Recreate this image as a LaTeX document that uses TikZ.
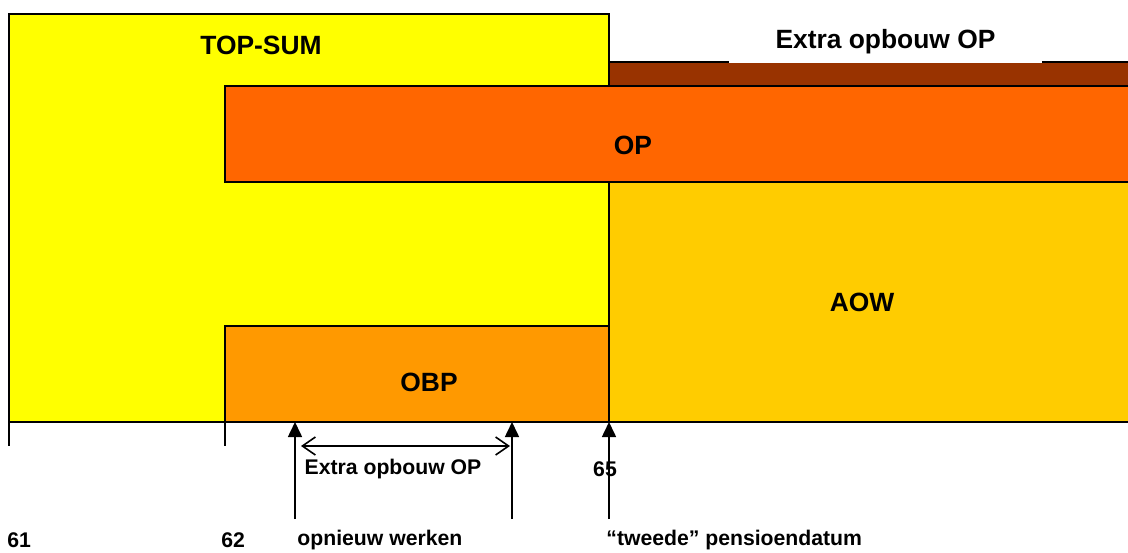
\documentclass[tikz,border=0pt]{standalone}
\usepackage{fontspec}
\setmainfont{Liberation Sans}
\usepackage{tikz}
\usetikzlibrary{
    arrows.meta,
    positioning
}

\definecolor{topsumyellow}{HTML}{FFFF00}
\definecolor{extrabrown}{HTML}{993300}
\definecolor{oporange}{HTML}{FF6600}
\definecolor{aowgold}{HTML}{FFCC00}
\definecolor{obporange}{HTML}{FF9900}

\tikzset{
    blok/.style={draw=black, line width=0.8pt},
    kop/.style={font=\fontsize{13.2}{15}\selectfont\bfseries, inner sep=0pt},
    as/.style={font=\fontsize{10.6}{12}\selectfont\bfseries, inner sep=0pt},
    pijl/.style={line width=0.8pt, -{Triangle[length=7.5pt, width=7pt]}},
    periode/.style={line width=0.8pt, {Straight Barb[length=6.5pt, width=9pt]}-{Straight Barb[length=6.5pt, width=9pt]}}
}

\begin{document}
\begin{tikzpicture}[x=0.5pt, y=-0.5pt]

\clip (0,0) rectangle (1128,552);

% blocks
\filldraw[blok, fill=topsumyellow] (9,14) rectangle (609,422);
\filldraw[blok, fill=aowgold] (609,182) rectangle (1132,422);
\filldraw[blok, fill=extrabrown] (609,62) rectangle (1132,86);
\filldraw[blok, fill=oporange] (225,86) rectangle (1132,182);
\filldraw[blok, fill=obporange] (225,326) rectangle (609,422);

% time axis
\draw[blok] (9,422) -- (1132,422);
\draw[blok] (9,422) -- (9,446);
\draw[blok] (225,422) -- (225,446);

% block labels
\node[kop] (topsum) at (261,45) {TOP-SUM};
\node[kop, fill=white, minimum width=156.5pt, minimum height=21.5pt] (extra) at (885.5,41.5) {Extra opbouw OP};
\node[kop] (op) at (633,145) {OP};
\node[kop] (aow) at (862,302) {AOW};
\node[kop] (obp) at (429,382) {OBP};

% ages and moments
\node[as, anchor=west] (l61) at (7,540) {61};
\node[as, anchor=west] (l62) at (221,540) {62};
\node[as, anchor=west] (werken) at (297,540) {opnieuw werken};
\node[as, anchor=west] (tweede) at (606,540) {“tweede” pensioendatum};
\node[as] (n65) at (605,469) {65};
\node[as] (extraop) at (393,469) {Extra opbouw OP};

% arrows
\coordinate (werkvan) at (295,519);
\coordinate (werktot) at (295,422);
\coordinate (stopvan) at (512,519);
\coordinate (stoptot) at (512,422);
\coordinate (pdvan) at (609,519);
\coordinate (pdtot) at (609,422);
\coordinate (perl) at (301,446);
\coordinate (perr) at (510,446);

\draw[pijl] (werkvan) -- (werktot);
\draw[pijl] (stopvan) -- (stoptot);
\draw[pijl] (pdvan) -- (pdtot);
\draw[periode] (perl) -- (perr);

\end{tikzpicture}
\end{document}
